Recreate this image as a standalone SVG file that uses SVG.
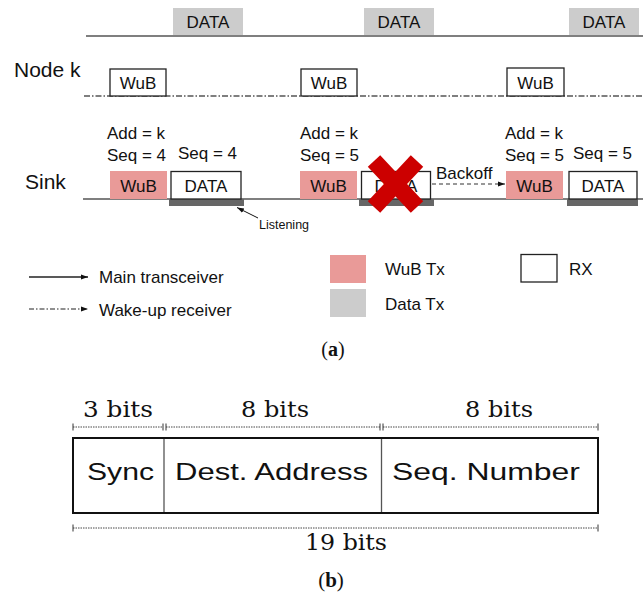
<svg xmlns="http://www.w3.org/2000/svg" width="643" height="595" viewBox="0 0 643 595">
<style>
.t{font-family:"Liberation Sans",Arial,sans-serif;font-size:17px;fill:#111}
.big{font-family:"Liberation Sans",Arial,sans-serif;font-size:21px;fill:#111}
.c{text-anchor:middle}
.pink{fill:#e99a98}
.gray{fill:#cccccc}
.bar{fill:#666666}
.box{fill:#ffffff;stroke:#222;stroke-width:1.3}
.main{stroke:#555;stroke-width:1.6;fill:none}
.wur{stroke:#555;stroke-width:1.4;fill:none;stroke-dasharray:6 2 1.5 2}
.serif{font-family:"Liberation Serif","Times New Roman",serif;fill:#111}
.bits{font-family:"DejaVu Serif","Liberation Serif",serif;font-size:23px;fill:#111;text-anchor:middle}
.field{font-family:"Liberation Sans",Arial,sans-serif;font-size:24px;fill:#111}
.dim{stroke:#333;stroke-width:0.9;stroke-dasharray:1.5 1;fill:none}
.tick{stroke:#333;stroke-width:1;fill:none}
</style>
<defs>
<marker id="ah" markerWidth="8" markerHeight="8" refX="7" refY="4" orient="auto" markerUnits="userSpaceOnUse">
<path d="M0,1.5 L7,4 L0,6.5 Z" fill="#111"/>
</marker>
</defs>

<!-- timelines -->
<g id="connectors">
<line class="main" x1="86" y1="36" x2="643" y2="36"/>
<line class="wur" x1="84" y1="96" x2="643" y2="96"/>
<line class="main" x1="83" y1="199" x2="643" y2="199"/>
<line x1="258" y1="218" x2="237" y2="207.5" stroke="#111" stroke-width="1" marker-end="url(#ah)"/>
<line x1="432" y1="184" x2="505" y2="184" stroke="#333" stroke-width="1.2" stroke-dasharray="4 3" marker-end="url(#ah)"/>
</g>

<g id="labels">
<text class="big" x="14" y="77">Node k</text>
<text class="big" x="25" y="189">Sink</text>
</g>

<!-- node k data transmissions -->
<g id="nodek-data1"><rect class="gray" x="173" y="8" width="70" height="27"/><text class="t c" x="208" y="28">DATA</text></g>
<g id="nodek-data2"><rect class="gray" x="364" y="8" width="70" height="27"/><text class="t c" x="399" y="28">DATA</text></g>
<g id="nodek-data3"><rect class="gray" x="569" y="8" width="70" height="27"/><text class="t c" x="604" y="28">DATA</text></g>

<!-- node k WuB receptions -->
<g id="nodek-wub1"><rect class="box" x="110" y="69" width="56" height="27"/><text class="t c" x="138" y="89">WuB</text></g>
<g id="nodek-wub2"><rect class="box" x="301" y="69" width="56" height="27"/><text class="t c" x="329" y="89">WuB</text></g>
<g id="nodek-wub3"><rect class="box" x="507" y="68" width="57" height="28"/><text class="t c" x="535.500" y="89">WuB</text></g>

<!-- sink, round 1 -->
<g id="sink-round1">
<text class="t" x="107" y="139">Add = k</text>
<text class="t" x="107" y="161">Seq = 4</text>
<text class="t" x="178" y="159">Seq = 4</text>
<rect class="pink" x="110" y="171" width="57" height="28"/>
<text class="t c" x="138.500" y="192">WuB</text>
<rect class="bar" x="169" y="199" width="75" height="7"/>
<rect class="box" x="171" y="171.500" width="70" height="27.500"/>
<text class="t c" x="206" y="192">DATA</text>
<text x="259" y="229" font-family="Liberation Sans, Arial, sans-serif" font-size="12.500" fill="#111">Listening</text>
</g>

<!-- sink, round 2 (collision) -->
<g id="sink-round2">
<text class="t" x="300" y="139">Add = k</text>
<text class="t" x="300" y="161">Seq = 5</text>
<rect class="pink" x="300" y="171" width="57" height="28"/>
<text class="t c" x="328.500" y="192">WuB</text>
<rect class="bar" x="359" y="199" width="75" height="7"/>
<rect class="box" x="361.500" y="171.500" width="69" height="27.500"/>
<text class="t c" x="396" y="192">DATA</text>
<line x1="374" y1="161" x2="417" y2="207" stroke="#cc0000" stroke-width="17"/>
<line x1="417" y1="161" x2="374" y2="207" stroke="#cc0000" stroke-width="17"/>
<text class="t" x="436" y="179">Backoff</text>
</g>

<!-- sink, round 3 -->
<g id="sink-round3">
<text class="t" x="505" y="139">Add = k</text>
<text class="t" x="505" y="161">Seq = 5</text>
<text class="t" x="573" y="159">Seq = 5</text>
<rect class="pink" x="506" y="171" width="57" height="28"/>
<text class="t c" x="534.500" y="192">WuB</text>
<rect class="bar" x="567" y="199" width="71" height="7"/>
<rect class="box" x="569" y="171.500" width="68" height="27.500"/>
<text class="t c" x="603" y="192">DATA</text>
</g>

<!-- legend -->
<g id="legend">
<line x1="29" y1="277" x2="88" y2="277" stroke="#222" stroke-width="1.3" marker-end="url(#ah)"/>
<text class="t" x="99" y="283">Main transceiver</text>
<line x1="29" y1="309" x2="88" y2="309" stroke="#222" stroke-width="1.2" stroke-dasharray="5 2 1.5 2" marker-end="url(#ah)"/>
<text class="t" x="99" y="316">Wake-up receiver</text>
<rect class="pink" x="330" y="255" width="36" height="28"/>
<text class="t" x="385" y="275">WuB Tx</text>
<rect class="gray" x="330" y="289" width="36" height="28"/>
<text class="t" x="385" y="310">Data Tx</text>
<rect class="box" x="521" y="254.500" width="36" height="27.500"/>
<text class="t" x="569" y="275">RX</text>
</g>

<text class="serif c" x="333" y="356" font-size="20">(<tspan font-weight="bold">a</tspan>)</text>

<!-- (b) frame format -->
<g id="frame">
<path class="dim" d="M73,427 H163 M166,427 H380 M383,427 H598"/>
<path class="tick" d="M73,423.500 V430.500 M163,423.500 V430.500 M166,423.500 V430.500 M380,423.500 V430.500 M383,423.500 V430.500 M598,423.500 V430.500"/>
<text class="bits" x="118" y="417" textLength="70" lengthAdjust="spacingAndGlyphs">3 bits</text>
<text class="bits" x="275" y="417" textLength="68" lengthAdjust="spacingAndGlyphs">8 bits</text>
<text class="bits" x="499" y="417" textLength="68" lengthAdjust="spacingAndGlyphs">8 bits</text>
<rect x="73" y="438" width="525" height="75" fill="#fff" stroke="#111" stroke-width="2"/>
<line x1="164" y1="439" x2="164" y2="512" stroke="#555" stroke-width="1.3"/>
<line x1="381.500" y1="439" x2="381.500" y2="512" stroke="#555" stroke-width="1.3"/>
<text class="field" x="87" y="480" textLength="67" lengthAdjust="spacingAndGlyphs">Sync</text>
<text class="field" x="175" y="480" textLength="193" lengthAdjust="spacingAndGlyphs">Dest. Address</text>
<text class="field" x="392" y="480" textLength="188" lengthAdjust="spacingAndGlyphs">Seq. Number</text>
<path class="dim" d="M73,528 H598"/>
<path class="tick" d="M73,524.500 V531.500 M598,524.500 V531.500"/>
<text class="bits" x="346" y="550" textLength="82" lengthAdjust="spacingAndGlyphs">19 bits</text>
<text class="serif c" x="331" y="587" font-size="21">(<tspan font-weight="bold">b</tspan>)</text>
</g>
</svg>
